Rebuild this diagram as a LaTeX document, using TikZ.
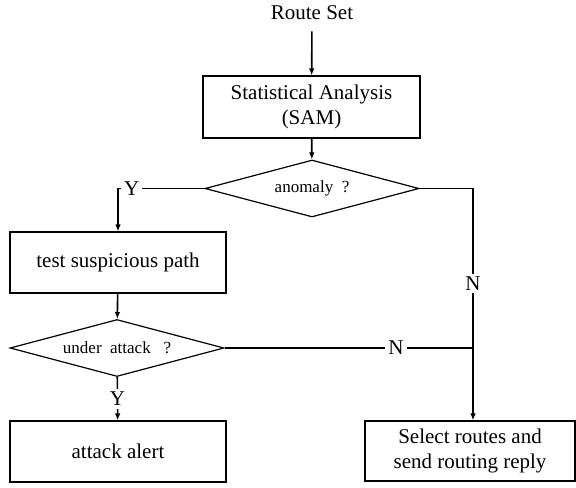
\documentclass[tikz,border=0pt]{standalone}
\usepackage{fontspec}
\setmainfont{Liberation Serif}
\usetikzlibrary{shapes.geometric,arrows.meta}

\begin{document}
\begin{tikzpicture}[x=0.5pt, y=-0.5pt, line width=0.6pt,
    every node/.style={font=\fontsize{10.5}{12.5}\selectfont},
    box/.style={draw, rectangle, align=center, inner sep=0pt},
    decision/.style={draw, diamond, aspect=3.8, inner sep=0pt,
        minimum width=107pt, minimum height=28.5pt, font=\fontsize{8.5}{10}\selectfont},
    arr/.style={line width=0.8pt, -{Latex[length=3.5pt, width=2.8pt]}},
    lab/.style={fill=white, inner sep=1.5pt}]
    \useasboundingbox (0,0) rectangle (576,487);
    % nodes
    \node (routeset) at (312,13) {Route Set};
    \node[box, minimum width=108.5pt, minimum height=31pt] (sam) at (311.5,107) {Statistical Analysis\\(SAM)};
    \node[decision] (anomaly) at (312,188.5) {anomaly\ \ ?};
    \node[box, minimum width=108pt, minimum height=30.5pt] (test) at (118,262.5) {test suspicious path};
    \node[decision] (attack) at (117,348) {under\ \ attack\ \ \ ?};
    \node[box, minimum width=108pt, minimum height=30.5pt] (alert) at (118,451.5) {attack alert};
    \node[box, minimum width=105pt, minimum height=30pt] (select) at (470,451) {Select routes and\\send routing reply};
    \coordinate (ncorner) at (473,188.5);
    % connectors
    \draw[arr, shorten <=2pt] (routeset) -- (sam);
    \draw[arr] (sam) -- (anomaly);
    \draw[arr] (anomaly.west) -| node[lab, pos=0.42] {Y} (test.north);
    \draw[arr] (anomaly.east) -- (ncorner) -- node[lab, pos=0.41] {N} (ncorner |- select.north);
    \draw[arr] (test) -- (attack);
    \draw (attack.east) -- node[lab, pos=0.69] {N} (ncorner |- attack.east);
    \draw[arr] (attack) -- node[lab] {Y} (alert);
\end{tikzpicture}
\end{document}
